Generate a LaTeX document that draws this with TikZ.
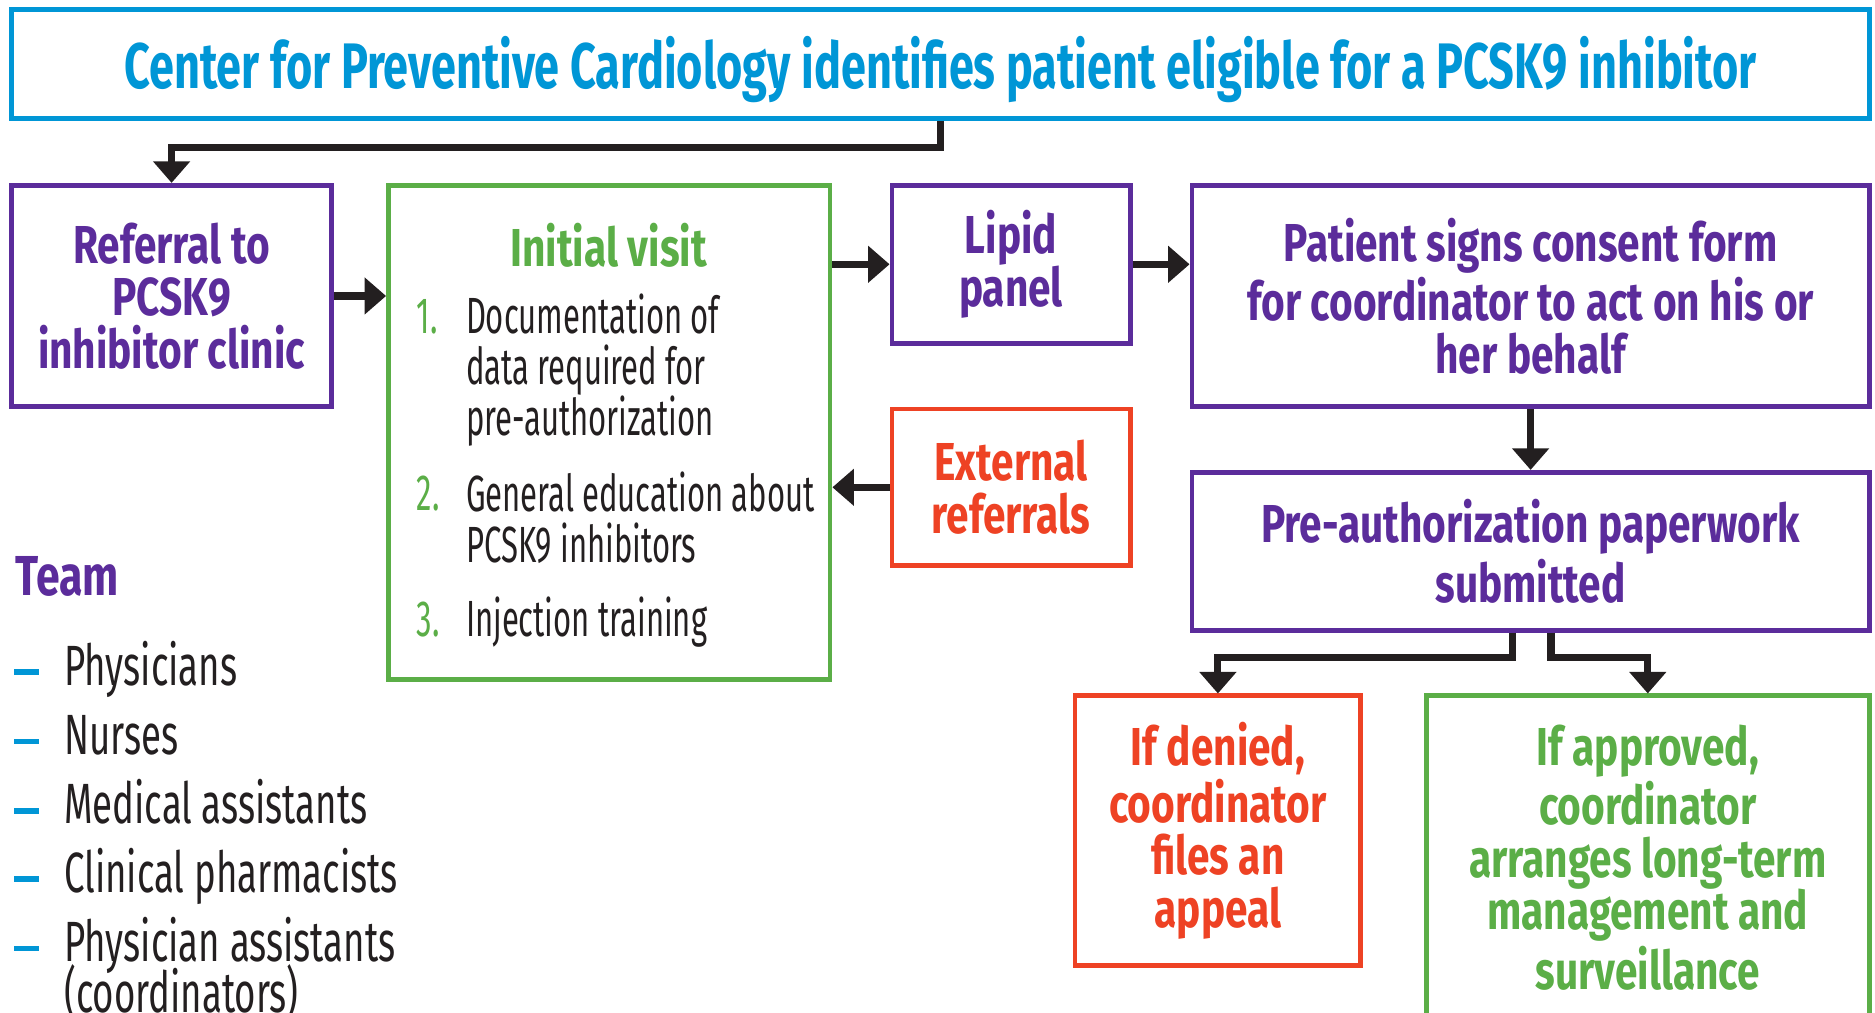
\documentclass[tikz,border=0pt]{standalone}
\usepackage{fontspec}
\setmainfont{Fira Sans}[FakeStretch=0.61]
\newfontfamily\titlefont{Fira Sans}[FakeStretch=0.70]
\newfontfamily\boxfont{Fira Sans}[FakeStretch=0.76]
\newfontfamily\listfont{Fira Sans}[FakeStretch=0.645]
\usetikzlibrary{arrows.meta,calc}
\definecolor{pcyan}{HTML}{0096D6}
\definecolor{ppurple}{HTML}{5B2C9B}
\definecolor{pgreen}{HTML}{5BAE47}
\definecolor{pred}{HTML}{EE4224}
\definecolor{pblack}{HTML}{231F20}
\begin{document}
\begin{tikzpicture}[x=0.01cm,y=-0.01cm,
		box/.style={draw=#1, line width=1.15pt, text=#1, align=center, inner sep=0pt,
			font=\boxfont\bfseries\fontsize{12.7}{12.5}\selectfont},
		arr/.style={draw=pblack, line width=1.7pt, -{Triangle[width=0.3cm,length=0.18cm]}},
		num/.style={anchor=base west, inner sep=0pt, text=pgreen, font=\fontsize{12.1}{12.1}\selectfont},
		item/.style={anchor=base west, inner sep=0pt, align=left, text=pblack, font=\fontsize{12.1}{12.1}\selectfont},
		member/.style={anchor=base west, inner sep=0pt, text=pblack, font=\listfont\fontsize{13.5}{12.2}\selectfont},
		teamdash/.style={draw=pcyan, line width=1.3pt}]
	\useasboundingbox (0,0) rectangle (1568,847);
	\clip (0,0) rectangle (1568,847);
	\fill[white] (0,0) rectangle (1568,847);
	% boxes
	\node[box=pcyan, minimum width=15.53cm, minimum height=0.91cm, text height=0.52cm, text depth=0.11cm, font=\titlefont\bfseries\fontsize{15.3}{15}\selectfont] (cpc) at (786.5,53.5) {Center for Preventive Cardiology identifies patient eligible for a PCSK9 inhibitor};
	\node[box=ppurple, minimum width=2.67cm, minimum height=1.85cm] (referral) at (143.5,247.5) {Referral to\\PCSK9\\inhibitor clinic};
	\node[box=pgreen, minimum width=3.69cm, minimum height=4.13cm] (visit) at (509.5,361.5) {};
	\node[box=ppurple, minimum width=1.99cm, minimum height=1.32cm] (lipid) at (845.5,221) {Lipid\\panel};
	\node[box=ppurple, minimum width=5.66cm, minimum height=1.85cm] (consent) at (1280,247.5) {Patient signs consent form\\for coordinator to act on his or\\her behalf};
	\node[box=pred, minimum width=1.99cm, minimum height=1.31cm] (extref) at (845.5,407.5) {External\\referrals};
	\node[box=ppurple, minimum width=5.66cm, minimum height=1.32cm] (preauth) at (1280,461) {Pre-authorization paperwork\\submitted};
	\node[box=pred, minimum width=2.39cm, minimum height=2.25cm] (denied) at (1018.5,694.5) {If denied,\\coordinator\\files an\\appeal};
	\node[box=pgreen, minimum width=3.70cm, minimum height=2.70cm] (approved) at (1378,717) {If approved,\\coordinator\\arranges long-term\\management and\\surveillance};
	% initial visit contents
	\node[anchor=base, inner sep=0pt, text=pgreen, font=\boxfont\bfseries\fontsize{12.7}{12.5}\selectfont] (visittitle) at (509,223) {Initial visit};
	\node[num] (n1) at (348,279) {1.};
	\node[item] (i1) at (389,364) {Documentation of\\data required for\\pre-authorization};
	\node[num] (n2) at (348,427) {2.};
	\node[item] (i2) at (389,470) {General education about\\PCSK9 inhibitors};
	\node[num] (n3) at (348,532) {3.};
	\node[item] (i3) at (389,532) {Injection training};
	% team
	\node[anchor=base west, inner sep=0pt, text=ppurple, font=\boxfont\bfseries\fontsize{13.4}{12.2}\selectfont] (team) at (12,498) {Team};
	\foreach \name/\y/\txt in {phys/573/Physicians, nurs/631/Nurses, med/689/Medical assistants,
		pharm/746/Clinical pharmacists, pa/804/Physician assistants} {
		\node[member] (\name) at (53,\y) {\txt};
		\draw[teamdash] (\name.base west) ++(-41,-11) -- ++(21,0);
	}
	\node[member] (pacont) at (53,847) {(coordinators)};
	% connectors
	\draw[arr] (cpc.south) -- ++(0,22) -| (referral.north);
	\draw[arr] (referral.east) -- (visit.west |- referral.east);
	\draw[arr] (visit.east |- lipid.west) -- (lipid.west);
	\draw[arr] (lipid.east) -- (consent.west |- lipid.east);
	\draw[arr] (consent.south) -- (preauth.north);
	\draw[arr] (extref.west) -- (visit.east |- extref.west);
	\draw[arr] ($(preauth.south)+(-15,0)$) -- ++(0,21) -| (denied.north);
	\draw[arr] ($(preauth.south)+(17,0)$) -- ++(0,21) -| (approved.north);
\end{tikzpicture}
\end{document}
